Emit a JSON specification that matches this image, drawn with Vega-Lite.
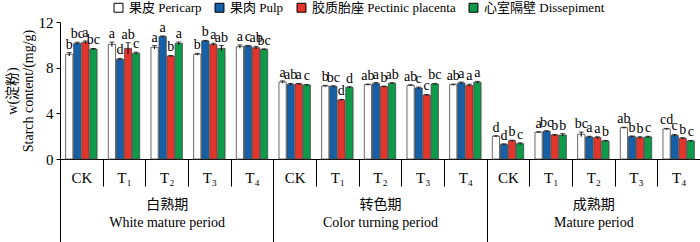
{
  "$schema": "https://vega.github.io/schema/vega-lite/v6.json",
  "width": 640,
  "height": 137,
  "autosize": {"type": "none"},
  "padding": {"left": 60, "top": 22, "right": 0, "bottom": 83},
  "background": "white",
  "config": {
    "font": "Liberation Serif",
    "view": {"stroke": null},
    "axis": {
      "labelFont": "Liberation Serif, Noto Sans CJK SC",
      "titleFont": "Liberation Serif, Noto Sans CJK SC",
      "labelColor": "black",
      "titleColor": "black",
      "domainColor": "black",
      "tickColor": "black",
      "grid": false
    },
    "legend": {
      "labelFont": "Liberation Serif, Noto Sans CJK SC",
      "labelColor": "black"
    }
  },
  "data": {
    "values": [
      {"k": "W|CK", "pl": "白熟期|White mature period", "part": "果皮 Pericarp", "v": 9.17, "lo": 9.02, "hi": 9.32, "l": "b"},
      {"k": "W|CK", "pl": "白熟期|White mature period", "part": "果肉 Pulp", "v": 10.13, "lo": 10.03, "hi": 10.23, "l": "bc"},
      {"k": "W|CK", "pl": "白熟期|White mature period", "part": "胶质胎座 Pectinic placenta", "v": 10.22, "lo": 10.1, "hi": 10.34, "l": "a"},
      {"k": "W|CK", "pl": "白熟期|White mature period", "part": "心室隔壁 Dissepiment", "v": 9.63, "lo": 9.58, "hi": 9.68, "l": "bc"},
      {"k": "W|T₁", "pl": "白熟期|White mature period", "part": "果皮 Pericarp", "v": 10.04, "lo": 9.84, "hi": 10.24, "l": "a"},
      {"k": "W|T₁", "pl": "白熟期|White mature period", "part": "果肉 Pulp", "v": 8.73, "lo": 8.65, "hi": 8.81, "l": "d"},
      {"k": "W|T₁", "pl": "白熟期|White mature period", "part": "胶质胎座 Pectinic placenta", "v": 9.69, "lo": 9.19, "hi": 10.19, "l": "ab"},
      {"k": "W|T₁", "pl": "白熟期|White mature period", "part": "心室隔壁 Dissepiment", "v": 9.26, "lo": 9.16, "hi": 9.36, "l": "c"},
      {"k": "W|T₂", "pl": "白熟期|White mature period", "part": "果皮 Pericarp", "v": 9.78, "lo": 9.63, "hi": 9.93, "l": "a"},
      {"k": "W|T₂", "pl": "白熟期|White mature period", "part": "果肉 Pulp", "v": 10.72, "lo": 10.66, "hi": 10.78, "l": "a"},
      {"k": "W|T₂", "pl": "白熟期|White mature period", "part": "胶质胎座 Pectinic placenta", "v": 9.02, "lo": 8.97, "hi": 9.07, "l": "b"},
      {"k": "W|T₂", "pl": "白熟期|White mature period", "part": "心室隔壁 Dissepiment", "v": 10.13, "lo": 10.01, "hi": 10.25, "l": "a"},
      {"k": "W|T₃", "pl": "白熟期|White mature period", "part": "果皮 Pericarp", "v": 9.17, "lo": 9.09, "hi": 9.25, "l": "b"},
      {"k": "W|T₃", "pl": "白熟期|White mature period", "part": "果肉 Pulp", "v": 10.34, "lo": 10.29, "hi": 10.39, "l": "b"},
      {"k": "W|T₃", "pl": "白熟期|White mature period", "part": "胶质胎座 Pectinic placenta", "v": 10.04, "lo": 9.94, "hi": 10.14, "l": "a"},
      {"k": "W|T₃", "pl": "白熟期|White mature period", "part": "心室隔壁 Dissepiment", "v": 9.69, "lo": 9.44, "hi": 9.94, "l": "ab"},
      {"k": "W|T₄", "pl": "白熟期|White mature period", "part": "果皮 Pericarp", "v": 9.84, "lo": 9.69, "hi": 9.99, "l": "a"},
      {"k": "W|T₄", "pl": "白熟期|White mature period", "part": "果肉 Pulp", "v": 9.9, "lo": 9.85, "hi": 9.95, "l": "c"},
      {"k": "W|T₄", "pl": "白熟期|White mature period", "part": "胶质胎座 Pectinic placenta", "v": 9.75, "lo": 9.63, "hi": 9.87, "l": "ab"},
      {"k": "W|T₄", "pl": "白熟期|White mature period", "part": "心室隔壁 Dissepiment", "v": 9.6, "lo": 9.55, "hi": 9.65, "l": "bc"},
      {"k": "C|CK", "pl": "转色期|Color turning period", "part": "果皮 Pericarp", "v": 6.74, "lo": 6.64, "hi": 6.84, "l": "a"},
      {"k": "C|CK", "pl": "转色期|Color turning period", "part": "果肉 Pulp", "v": 6.54, "lo": 6.46, "hi": 6.62, "l": "ab"},
      {"k": "C|CK", "pl": "转色期|Color turning period", "part": "胶质胎座 Pectinic placenta", "v": 6.57, "lo": 6.52, "hi": 6.62, "l": "a"},
      {"k": "C|CK", "pl": "转色期|Color turning period", "part": "心室隔壁 Dissepiment", "v": 6.48, "lo": 6.43, "hi": 6.53, "l": "c"},
      {"k": "C|T₁", "pl": "转色期|Color turning period", "part": "果皮 Pericarp", "v": 6.39, "lo": 6.33, "hi": 6.45, "l": "b"},
      {"k": "C|T₁", "pl": "转色期|Color turning period", "part": "果肉 Pulp", "v": 6.36, "lo": 6.31, "hi": 6.41, "l": "bc"},
      {"k": "C|T₁", "pl": "转色期|Color turning period", "part": "胶质胎座 Pectinic placenta", "v": 5.17, "lo": 5.12, "hi": 5.22, "l": "d"},
      {"k": "C|T₁", "pl": "转色期|Color turning period", "part": "心室隔壁 Dissepiment", "v": 6.28, "lo": 6.23, "hi": 6.33, "l": "d"},
      {"k": "C|T₂", "pl": "转色期|Color turning period", "part": "果皮 Pericarp", "v": 6.51, "lo": 6.46, "hi": 6.56, "l": "ab"},
      {"k": "C|T₂", "pl": "转色期|Color turning period", "part": "果肉 Pulp", "v": 6.6, "lo": 6.5, "hi": 6.7, "l": "a"},
      {"k": "C|T₂", "pl": "转色期|Color turning period", "part": "胶质胎座 Pectinic placenta", "v": 6.34, "lo": 6.29, "hi": 6.39, "l": "b"},
      {"k": "C|T₂", "pl": "转色期|Color turning period", "part": "心室隔壁 Dissepiment", "v": 6.63, "lo": 6.57, "hi": 6.69, "l": "ab"},
      {"k": "C|T₃", "pl": "转色期|Color turning period", "part": "果皮 Pericarp", "v": 6.45, "lo": 6.4, "hi": 6.5, "l": "ab"},
      {"k": "C|T₃", "pl": "转色期|Color turning period", "part": "果肉 Pulp", "v": 6.22, "lo": 6.14, "hi": 6.3, "l": "c"},
      {"k": "C|T₃", "pl": "转色期|Color turning period", "part": "胶质胎座 Pectinic placenta", "v": 5.6, "lo": 5.55, "hi": 5.65, "l": "c"},
      {"k": "C|T₃", "pl": "转色期|Color turning period", "part": "心室隔壁 Dissepiment", "v": 6.57, "lo": 6.52, "hi": 6.62, "l": "bc"},
      {"k": "C|T₄", "pl": "转色期|Color turning period", "part": "果皮 Pericarp", "v": 6.51, "lo": 6.46, "hi": 6.56, "l": "ab"},
      {"k": "C|T₄", "pl": "转色期|Color turning period", "part": "果肉 Pulp", "v": 6.66, "lo": 6.58, "hi": 6.74, "l": "a"},
      {"k": "C|T₄", "pl": "转色期|Color turning period", "part": "胶质胎座 Pectinic placenta", "v": 6.45, "lo": 6.35, "hi": 6.55, "l": "a"},
      {"k": "C|T₄", "pl": "转色期|Color turning period", "part": "心室隔壁 Dissepiment", "v": 6.72, "lo": 6.64, "hi": 6.8, "l": "a"},
      {"k": "M|CK", "pl": "成熟期|Mature period", "part": "果皮 Pericarp", "v": 1.99, "lo": 1.94, "hi": 2.04, "l": "d"},
      {"k": "M|CK", "pl": "成熟期|Mature period", "part": "果肉 Pulp", "v": 1.28, "lo": 1.23, "hi": 1.33, "l": "d"},
      {"k": "M|CK", "pl": "成熟期|Mature period", "part": "胶质胎座 Pectinic placenta", "v": 1.6, "lo": 1.55, "hi": 1.65, "l": "b"},
      {"k": "M|CK", "pl": "成熟期|Mature period", "part": "心室隔壁 Dissepiment", "v": 1.34, "lo": 1.26, "hi": 1.42, "l": "c"},
      {"k": "M|T₁", "pl": "成熟期|Mature period", "part": "果皮 Pericarp", "v": 2.34, "lo": 2.29, "hi": 2.39, "l": "a"},
      {"k": "M|T₁", "pl": "成熟期|Mature period", "part": "果肉 Pulp", "v": 2.42, "lo": 2.36, "hi": 2.48, "l": "bc"},
      {"k": "M|T₁", "pl": "成熟期|Mature period", "part": "胶质胎座 Pectinic placenta", "v": 2.1, "lo": 2.05, "hi": 2.15, "l": "b"},
      {"k": "M|T₁", "pl": "成熟期|Mature period", "part": "心室隔壁 Dissepiment", "v": 2.1, "lo": 1.98, "hi": 2.22, "l": "b"},
      {"k": "M|T₂", "pl": "成熟期|Mature period", "part": "果皮 Pericarp", "v": 2.16, "lo": 1.96, "hi": 2.36, "l": "bc"},
      {"k": "M|T₂", "pl": "成熟期|Mature period", "part": "果肉 Pulp", "v": 1.93, "lo": 1.87, "hi": 1.99, "l": "a"},
      {"k": "M|T₂", "pl": "成熟期|Mature period", "part": "胶质胎座 Pectinic placenta", "v": 1.87, "lo": 1.79, "hi": 1.95, "l": "a"},
      {"k": "M|T₂", "pl": "成熟期|Mature period", "part": "心室隔壁 Dissepiment", "v": 1.58, "lo": 1.53, "hi": 1.63, "l": "b"},
      {"k": "M|T₃", "pl": "成熟期|Mature period", "part": "果皮 Pericarp", "v": 2.74, "lo": 2.69, "hi": 2.79, "l": "ab"},
      {"k": "M|T₃", "pl": "成熟期|Mature period", "part": "果肉 Pulp", "v": 1.96, "lo": 1.9, "hi": 2.02, "l": "b"},
      {"k": "M|T₃", "pl": "成熟期|Mature period", "part": "胶质胎座 Pectinic placenta", "v": 1.87, "lo": 1.79, "hi": 1.95, "l": "b"},
      {"k": "M|T₃", "pl": "成熟期|Mature period", "part": "心室隔壁 Dissepiment", "v": 1.93, "lo": 1.87, "hi": 1.99, "l": "c"},
      {"k": "M|T₄", "pl": "成熟期|Mature period", "part": "果皮 Pericarp", "v": 2.63, "lo": 2.58, "hi": 2.68, "l": "cd"},
      {"k": "M|T₄", "pl": "成熟期|Mature period", "part": "果肉 Pulp", "v": 2.07, "lo": 1.99, "hi": 2.15, "l": "c"},
      {"k": "M|T₄", "pl": "成熟期|Mature period", "part": "胶质胎座 Pectinic placenta", "v": 1.81, "lo": 1.75, "hi": 1.87, "l": "b"},
      {"k": "M|T₄", "pl": "成熟期|Mature period", "part": "心室隔壁 Dissepiment", "v": 1.58, "lo": 1.53, "hi": 1.63, "l": "c"}
    ]
  },
  "layer": [
    {
      "mark": {"type": "rule", "strokeOpacity": 0},
      "encoding": {
        "x": {
          "field": "pl",
          "type": "nominal",
          "sort": null,
          "scale": {"type": "band", "paddingInner": 0, "paddingOuter": 0},
          "axis": {
            "orient": "bottom",
            "title": null,
            "domain": false,
            "tickBand": "extent",
            "tickSize": 83,
            "labelPadding": -45,
            "labelAngle": 0,
            "labelFontSize": 14,
            "labelLineHeight": 18,
            "labelBaseline": "top",
            "labelExpr": "split(datum.label, '|')"
          }
        }
      }
    },
    {
      "encoding": {
        "x": {
          "field": "k",
          "type": "nominal",
          "sort": null,
          "scale": {"type": "band", "paddingInner": 0, "paddingOuter": 0},
          "axis": {
            "orient": "bottom",
            "title": null,
            "domain": true,
            "tickBand": "extent",
            "tickSize": 27,
            "labelPadding": -16,
            "labelAngle": 0,
            "labelFontSize": 15,
            "labelExpr": "split(datum.label, '|')[1]"
          }
        },
        "xOffset": {
          "field": "part",
          "type": "nominal",
          "scale": {
            "domain": ["果皮 Pericarp", "果肉 Pulp", "胶质胎座 Pectinic placenta", "心室隔壁 Dissepiment"],
            "paddingInner": 0.1,
            "paddingOuter": 0.7
          }
        }
      },
      "layer": [
        {
          "mark": {"type": "bar", "stroke": "#444444", "strokeWidth": 0.8},
          "encoding": {
            "y": {
              "field": "v",
              "type": "quantitative",
              "scale": {"domain": [0, 12]},
              "axis": {
                "values": [0, 2, 4, 6, 8, 10, 12],
                "title": ["w(淀粉)", "Starch content/(mg/g)"],
                "titleFontSize": 14,
                "titleFontWeight": "normal",
                "titleLineHeight": 16,
                "titlePadding": 3,
                "labelFontSize": 15,
                "tickSize": 4,
                "labelPadding": 3
              }
            },
            "color": {
              "field": "part",
              "type": "nominal",
              "scale": {
                "domain": ["果皮 Pericarp", "果肉 Pulp", "胶质胎座 Pectinic placenta", "心室隔壁 Dissepiment"],
                "range": ["#ffffff", "#1560a8", "#e4342b", "#0e9b49"]
              },
              "legend": {
                "title": null,
                "orient": "none",
                "legendX": 52,
                "legendY": -21,
                "direction": "horizontal",
                "columns": 4,
                "columnPadding": 11,
                "symbolType": "square",
                "symbolSize": 80,
                "symbolStrokeColor": "black",
                "symbolStrokeWidth": 1,
                "labelFontSize": 13,
                "labelOffset": 4
              }
            }
          }
        },
        {
          "mark": {"type": "rule", "color": "black", "strokeWidth": 1},
          "encoding": {
            "y": {"field": "lo", "type": "quantitative"},
            "y2": {"field": "hi"}
          }
        },
        {
          "mark": {"type": "tick", "color": "black", "thickness": 1, "size": 5},
          "encoding": {
            "y": {"field": "hi", "type": "quantitative"}
          }
        },
        {
          "mark": {"type": "text", "baseline": "bottom", "dy": -1, "fontSize": 14, "font": "Liberation Serif", "color": "black"},
          "encoding": {
            "y": {"field": "hi", "type": "quantitative"},
            "text": {"field": "l"}
          }
        }
      ]
    }
  ],
  "resolve": {"scale": {"x": "independent"}}
}
